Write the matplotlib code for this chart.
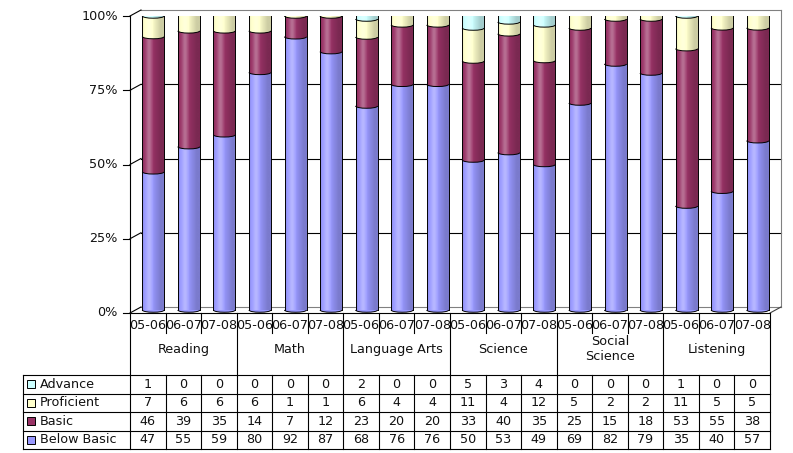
import numpy as np
import matplotlib.pyplot as plt
from matplotlib.patches import Ellipse, Arc, Rectangle

subjects = ["Reading", "Math", "Language Arts", "Science", "Social\nScience", "Listening"]
years = ["05-06", "06-07", "07-08"]
levels = ["Advance", "Proficient", "Basic", "Below Basic"]
advance = [1, 0, 0, 0, 0, 0, 2, 0, 0, 5, 3, 4, 0, 0, 0, 1, 0, 0]
proficient = [7, 6, 6, 6, 1, 1, 6, 4, 4, 11, 4, 12, 5, 2, 2, 11, 5, 5]
basic = [46, 39, 35, 14, 7, 12, 23, 20, 20, 33, 40, 35, 25, 15, 18, 53, 55, 38]
below_basic = [47, 55, 59, 80, 92, 87, 68, 76, 76, 50, 53, 49, 69, 82, 79, 35, 40, 57]
colors = {"Advance": "#ccffff", "Proficient": "#ffffcc",
          "Basic": "#993366", "Below Basic": "#9999ff"}
yticks = [0, 25, 50, 75, 100]

W, H = 793, 453
fig = plt.figure(figsize=(W / 100, H / 100), dpi=100)


def box(x0, y0, x1, y1):
    # pixel box (y measured from the top) -> figure fraction
    return [x0 / W, 1 - y1 / H, (x1 - x0) / W, (y1 - y0) / H]


ncol = len(advance)
ax = fig.add_axes(box(130, 16, 770, 313))
ax.set_xlim(-0.5, ncol - 0.5)
ax.set_ylim(0, 100)
ax.axis("off")

pxx = 640 / ncol   # px per column
pxy = 297 / 100    # px per percent
dxb, dyb = 11 / pxx, 6 / pxy   # depth of the 3d box
bw = 22 / pxx
eh = 4.5 / pxy
fs = 9.2
tc = "#111111"

# walls, floor and gridlines
for v in yticks:
    c = "#808080" if v in (0, 100) else "black"
    ax.plot([-0.5 + dxb, ncol - 0.5 + dxb], [v + dyb] * 2, color=c, lw=0.8, clip_on=False, zorder=1)
    ax.plot([-0.5, -0.5 + dxb], [v, v + dyb], color="black", lw=0.8, clip_on=False, zorder=1)
    ax.plot([-0.5 - 0.2, -0.5], [v, v], color="black", lw=0.8, clip_on=False, zorder=1)
    ax.text(-0.5 - 0.34, v, f"{v}%", ha="right", va="center", fontsize=fs, color=tc)
ax.plot([ncol - 0.5 + dxb] * 2, [dyb, 100 + dyb], color="#808080", lw=0.8, clip_on=False, zorder=1)
ax.plot([ncol - 0.5, ncol - 0.5 + dxb], [0, dyb], color="#404040", lw=0.8, clip_on=False, zorder=1)
ax.plot([-0.5, ncol - 0.5], [0, 0], color="black", lw=0.8, clip_on=False, zorder=12)
ax.plot([-0.5, -0.5], [0, 100], color="black", lw=0.8, clip_on=False, zorder=12)

# stacked cylinders
order = ["Below Basic", "Basic", "Proficient", "Advance"]
data = np.array([below_basic, basic, proficient, advance], dtype=float)
pct = data / data.sum(axis=0) * 100
x = np.arange(ncol) + dxb / 2
base = dyb / 2
bottoms = base + np.vstack([np.zeros(ncol), np.cumsum(pct, axis=0)[:-1]])
tops = base + pct.sum(axis=0)

for k, name in enumerate(order):
    ax.bar(x, pct[k], bottom=bottoms[k], width=bw, color=colors[name],
           edgecolor="none", zorder=3 + k)
    for i in range(ncol):
        if pct[k, i] > 0:
            ax.add_patch(Ellipse((x[i], bottoms[k, i]), bw, eh, facecolor=colors[name],
                                 edgecolor="none", zorder=3.5 + k))

# cylinder shading
u = np.linspace(0, 1, 64)
wa = 0.30 * np.exp(-((u - 0.32) / 0.14) ** 2)
ba = 0.20 * np.clip((u - 0.45) / 0.4, 0, 1) + 0.10 * np.exp(-(u / 0.07) ** 2)
grad = np.zeros((1, 64, 4))
grad[0, :, :3] = np.where(wa > ba, 1.0, 0.0)[:, None]
grad[0, :, 3] = np.maximum(wa, ba)

for i in range(ncol):
    ax.imshow(grad, extent=[x[i] - bw / 2, x[i] + bw / 2, base, tops[i]],
              aspect="auto", zorder=8, interpolation="bilinear")
    ax.plot([x[i] - bw / 2] * 2, [base, tops[i]], color="black", lw=0.7, zorder=9)
    ax.plot([x[i] + bw / 2] * 2, [base, tops[i]], color="black", lw=0.7, zorder=9)
    ax.add_patch(Arc((x[i], base), bw, eh, theta1=180, theta2=360, color="black", lw=0.7, zorder=9))
    for k in range(1, 4):
        if pct[k, i] > 0:
            ax.add_patch(Arc((x[i], bottoms[k, i]), bw, eh, theta1=180, theta2=360,
                             color="black", lw=0.7, zorder=9))
    ax.add_patch(Ellipse((x[i], tops[i]), bw, eh, facecolor="#bfeeee",
                         edgecolor="black", lw=0.7, zorder=10))

ax.set_xlim(-0.5, ncol - 0.5)
ax.set_ylim(0, 100)

# data table under the chart (y in pixels)
tax = fig.add_axes(box(130, 313, 770, 449))
tax.set_xlim(-0.5, ncol - 0.5)
tax.set_ylim(449, 313)
tax.axis("off")


def xd(px):
    return -0.5 + (px - 130) / pxx


lk = dict(color="black", lw=0.8, clip_on=False)
rows = [375, 393.5, 412, 430.5, 449]
for j in range(ncol):
    tax.text(j, 325, years[j % 3], ha="center", va="center", fontsize=fs, color=tc)
for g, s in enumerate(subjects):
    tax.text(3 * g + 1, 349, s, ha="center", va="center", fontsize=fs, color=tc,
             linespacing=1.25)
for j in range(ncol + 1):
    if j % 3 == 0:
        tax.plot([j - 0.5] * 2, [313, 449], **lk)
    else:
        tax.plot([j - 0.5] * 2, [313, 333], **lk)
        tax.plot([j - 0.5] * 2, [rows[0], 449], **lk)
for r in rows:
    tax.plot([xd(23), ncol - 0.5], [r, r], **lk)
tax.plot([xd(23)] * 2, [rows[0], 449], **lk)

table_vals = {"Advance": advance, "Proficient": proficient,
              "Basic": basic, "Below Basic": below_basic}
for r, name in enumerate(levels):
    yc = (rows[r] + rows[r + 1]) / 2
    tax.add_patch(Rectangle((xd(27), yc - 4), 8 / pxx, 8, facecolor=colors[name],
                            edgecolor="black", lw=0.7, clip_on=False))
    tax.text(xd(40), yc, name, ha="left", va="center", fontsize=fs, color=tc)
    for j, v in enumerate(table_vals[name]):
        tax.text(j, yc, str(v), ha="center", va="center", fontsize=fs, color=tc)

fig.savefig("out.png", dpi=100)
